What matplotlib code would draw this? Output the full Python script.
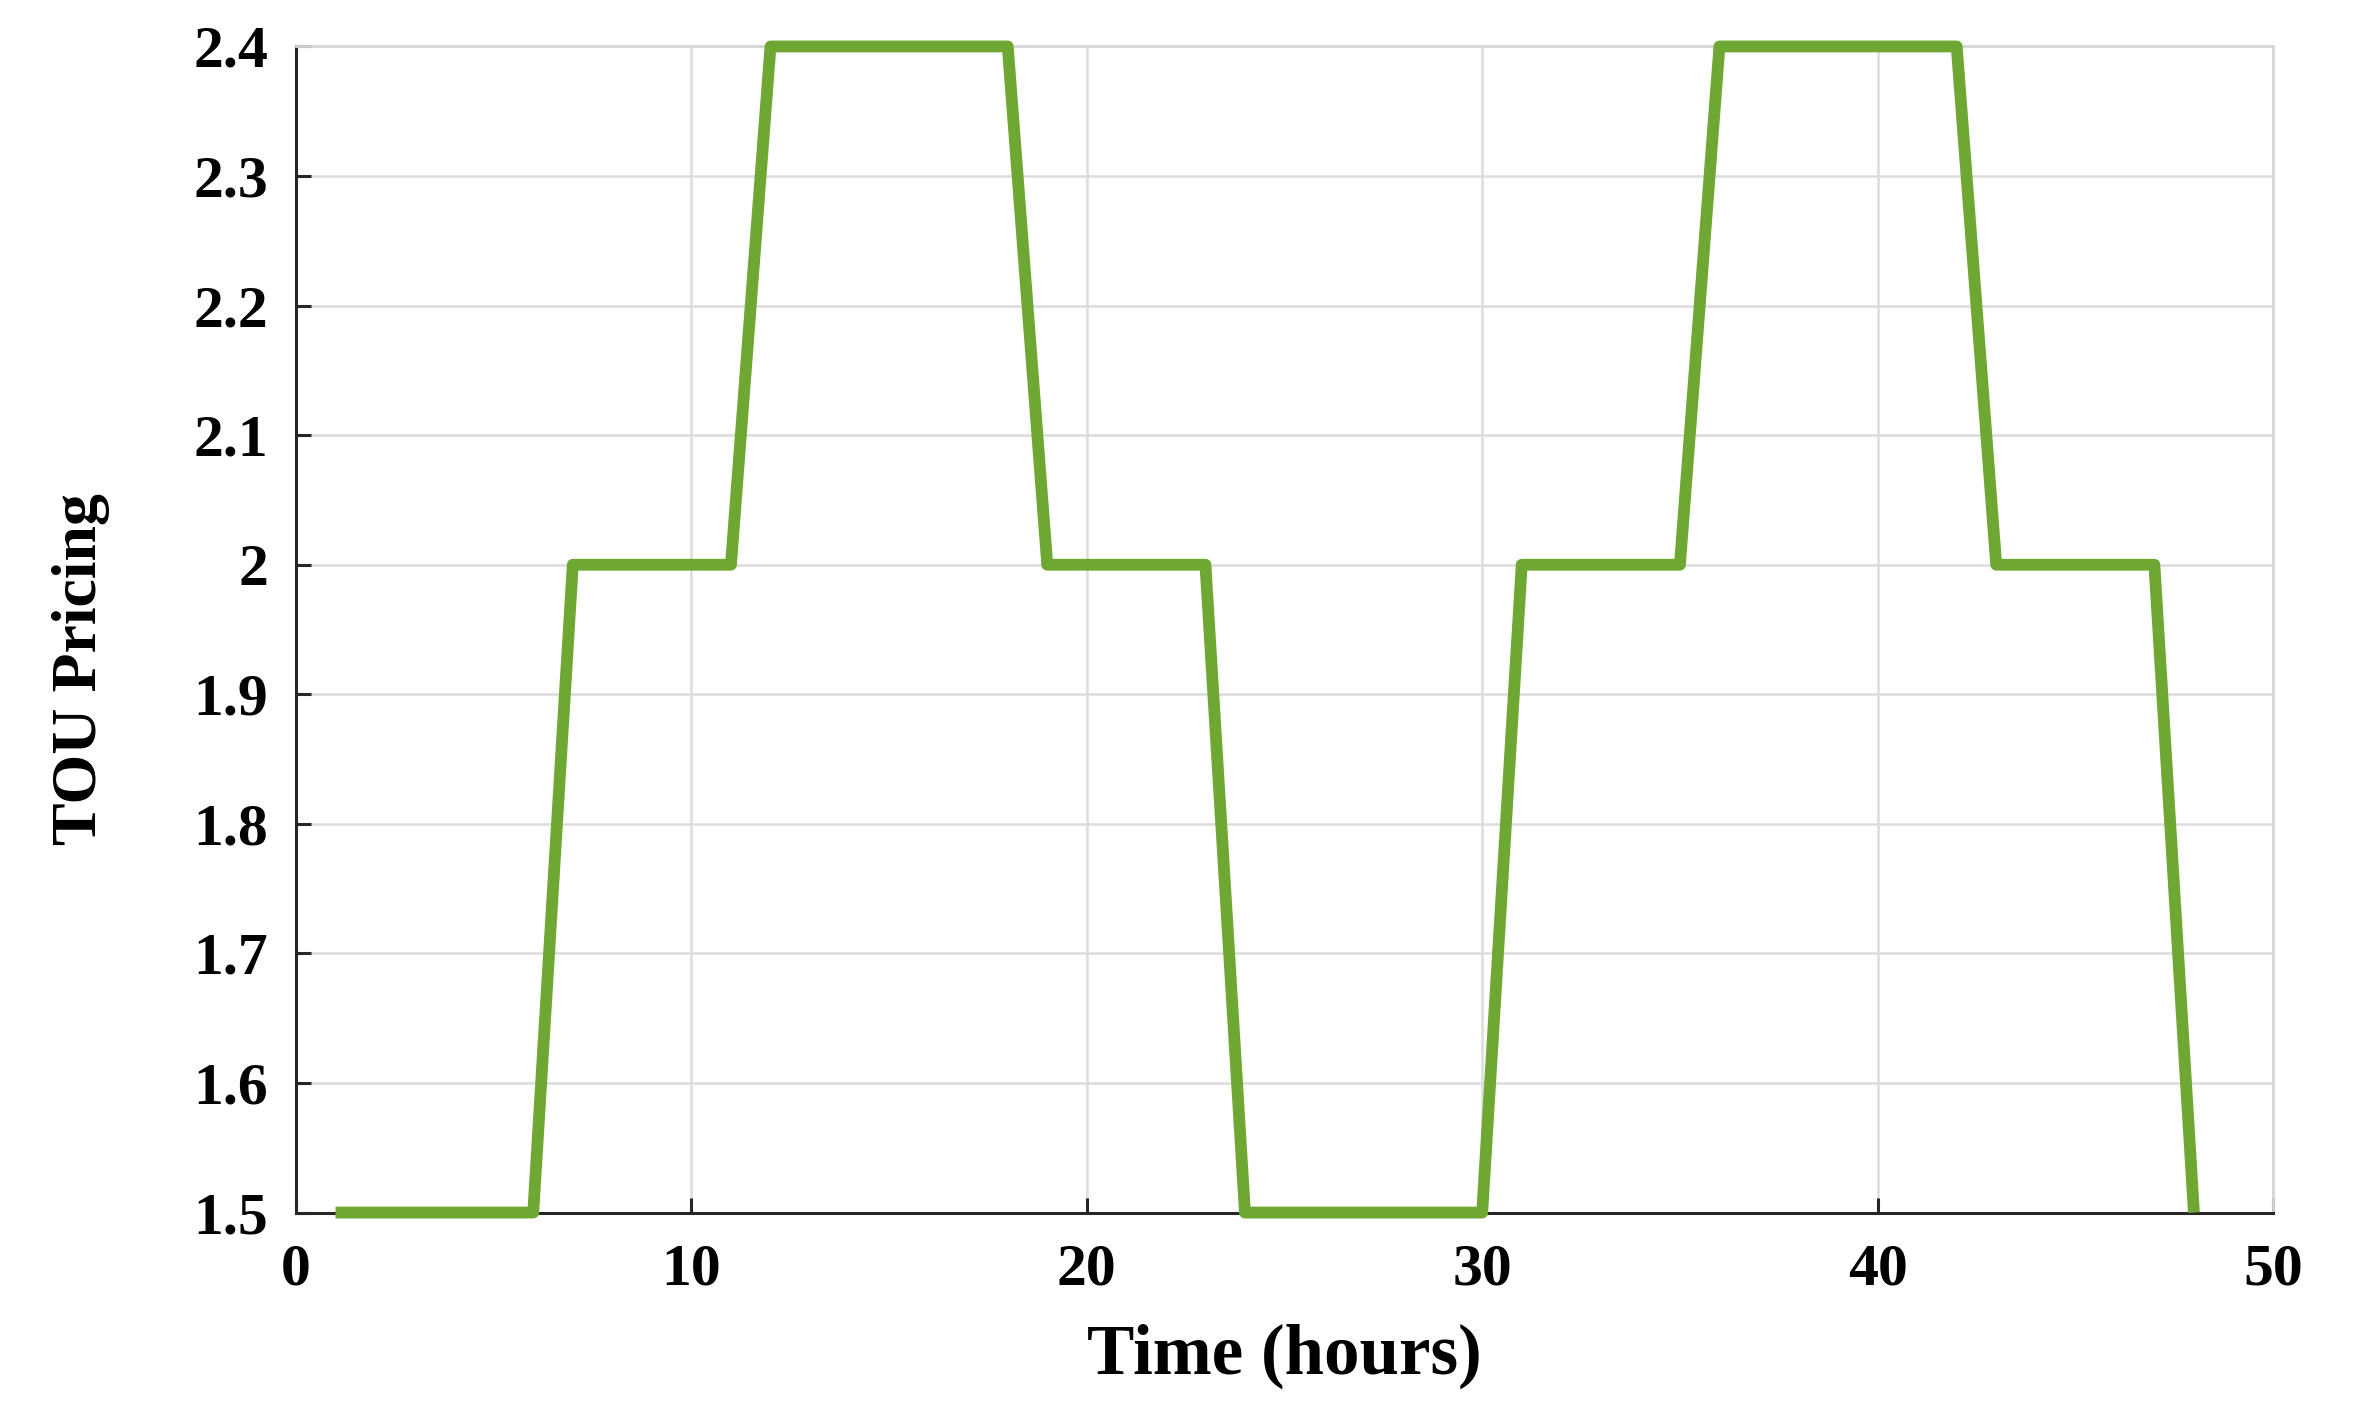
import matplotlib
matplotlib.use("Agg")
import matplotlib.pyplot as plt

hours = list(range(1, 49))
price = ([1.5] * 6 + [2.0] * 5 + [2.4] * 7 + [2.0] * 5 +
         [1.5] * 7 + [2.0] * 5 + [2.4] * 7 + [2.0] * 5 + [1.5])
xticks = [0, 10, 20, 30, 40, 50]
yticks = [1.5, 1.6, 1.7, 1.8, 1.9, 2.0, 2.1, 2.2, 2.3, 2.4]
ytick_labels = ["1.5", "1.6", "1.7", "1.8", "1.9", "2", "2.1", "2.2", "2.3", "2.4"]

plt.rcParams['font.family'] = ['Liberation Serif', 'DejaVu Serif']
plt.rcParams['font.weight'] = 'bold'

fig = plt.figure(figsize=(23.53, 14.08), dpi=100)
ax = fig.add_axes([0.1258, 0.1388, 0.8402, 0.8282])

ax.plot(hours, price, color='#6ea832', lw=8.5, solid_joinstyle='round',
        solid_capstyle='butt', zorder=3, clip_on=False)

ax.set_xlim(0, 50)
ax.set_ylim(1.5, 2.4)
ax.set_xticks(xticks)
ax.set_yticks(yticks)
ax.set_yticklabels(ytick_labels)
ax.grid(True, color='#dcdcdc', lw=1.8)
ax.set_axisbelow(True)

for s in ['top', 'right']:
    ax.spines[s].set_color('#d6d6d6')
    ax.spines[s].set_linewidth(2.0)
for s in ['left', 'bottom']:
    ax.spines[s].set_color('#262626')
    ax.spines[s].set_linewidth(2.2)

ax.tick_params(axis='both', direction='in', length=11, width=2.2,
               color='#262626', labelsize=43, top=False, right=False)
ax.tick_params(axis='x', pad=22)
ax.tick_params(axis='y', pad=20)
for lbl in ax.get_xticklabels() + ax.get_yticklabels():
    lbl.set_fontweight('bold')

ax.set_xlabel('Time (hours)', fontsize=51, fontweight='bold')
ax.set_ylabel('TOU Pricing', fontsize=46, fontweight='bold')
ax.xaxis.set_label_coords(0.5, -0.095)
ax.yaxis.set_label_coords(-0.094, 0.466)

fig.savefig('out.png', dpi=100, facecolor='white')
